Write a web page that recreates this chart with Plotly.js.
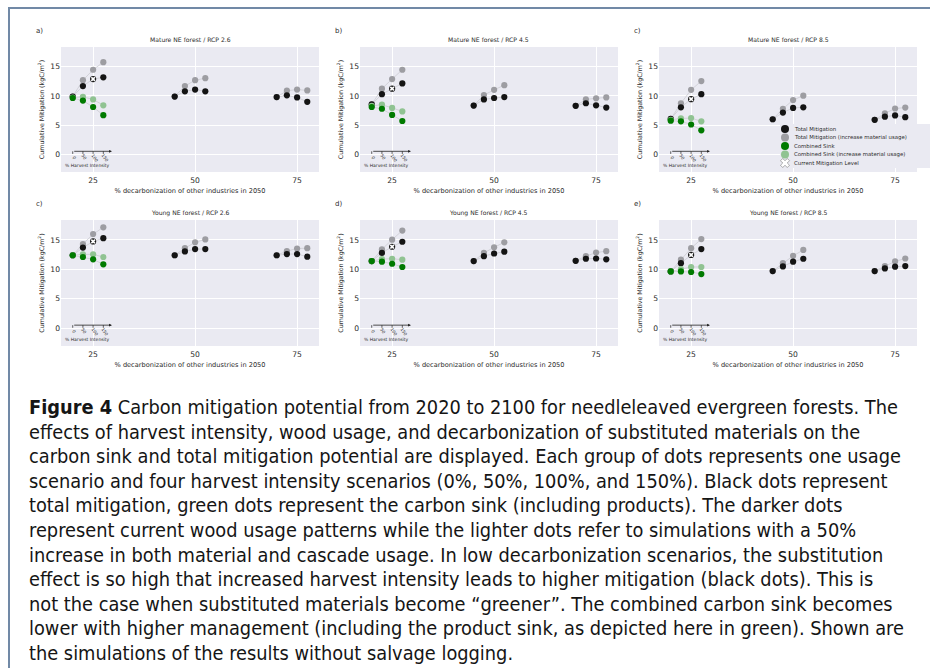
<!DOCTYPE html>
<html>
<head>
<meta charset="utf-8">
<script src="https://cdn.plot.ly/plotly-3.0.1.min.js"></script>
<style>
  html, body { margin: 0; padding: 0; background: #fff; }
  #wrap { position: relative; width: 930px; height: 668px; overflow: hidden; }
  #chart { position: absolute; left: 0; top: 0; width: 930px; height: 668px; }
  #frame { position: absolute; left: 8px; top: 7px; width: 940px; height: 700px;
           border-top: 2px solid #7189a6; border-left: 2px solid #7189a6; }
  #caption { position: absolute; left: 29px; top: 396px; white-space: pre;
             font-family: "Liberation Sans Narrow", "DejaVu Sans Condensed", "Liberation Sans", sans-serif;
             font-size: 19.8px; line-height: 24.6px; color: #151515; }
</style>
</head>
<body>
<div id="wrap">
  <div id="chart"></div>
  <div id="frame"></div>
  <div id="caption"></div>
</div>
<script>
// Decarbonization levels (%) and harvest intensity scenarios (%)
const decarbonization = [25, 50, 75];
const harvestIntensity = [0, 50, 100, 150];
const harvestLabels = ['0', '50', '100', '150'];

// Cumulative mitigation (kgC/m2), one row per decarbonization level, one value per harvest intensity
const matureRcp26Total     = [[9.9, 11.7, 12.9, 13.2], [9.9, 10.8, 11.1, 10.8], [9.8, 10.1, 9.75, 9.0]];
const matureRcp26TotalInc  = [[9.9, 12.7, 14.5, 15.8], [9.9, 11.7, 12.7, 13.05], [9.8, 10.9, 11.1, 10.95]];
const matureRcp26Sink      = [9.65, 9.2, 8.1, 6.7];
const matureRcp26SinkInc   = [9.7, 9.85, 9.4, 8.4];

const matureRcp45Total     = [[8.55, 10.3, 11.25, 12.15], [8.35, 9.4, 9.65, 9.8], [8.3, 8.75, 8.4, 8.0]];
const matureRcp45TotalInc  = [[8.55, 11.25, 12.9, 14.5], [8.35, 10.15, 11.05, 11.85], [8.3, 9.4, 9.6, 9.75]];
const matureRcp45Sink      = [8.1, 7.8, 6.75, 5.7];
const matureRcp45SinkInc   = [8.3, 8.5, 7.95, 7.35];

const matureRcp85Total     = [[6.05, 8.05, 9.45, 10.3], [6.0, 7.15, 7.95, 8.05], [5.9, 6.45, 6.65, 6.35]];
const matureRcp85TotalInc  = [[6.05, 8.75, 11.05, 12.55], [6.0, 7.8, 9.3, 10.05], [5.9, 7.0, 7.85, 8.0]];
const matureRcp85Sink      = [5.75, 5.65, 5.1, 4.1];
const matureRcp85SinkInc   = [5.9, 6.15, 6.2, 5.65];

const youngRcp26Total      = [[12.4, 13.7, 14.75, 15.3], [12.4, 13.05, 13.45, 13.45], [12.4, 12.6, 12.6, 12.15]];
const youngRcp26TotalInc   = [[12.4, 14.3, 16.0, 17.15], [12.4, 13.6, 14.6, 15.1], [12.4, 13.1, 13.55, 13.6]];
const youngRcp26Sink       = [12.4, 12.1, 11.7, 10.85];
const youngRcp26SinkInc    = [12.4, 12.55, 12.55, 12.1];

const youngRcp45Total      = [[11.4, 12.8, 13.85, 14.7], [11.4, 12.25, 12.7, 13.0], [11.45, 11.8, 11.85, 11.7]];
const youngRcp45TotalInc   = [[11.4, 13.4, 15.05, 16.6], [11.4, 12.8, 13.75, 14.6], [11.45, 12.25, 12.85, 13.1]];
const youngRcp45Sink       = [11.4, 11.3, 10.95, 10.4];
const youngRcp45SinkInc    = [11.4, 11.75, 11.8, 11.65];

const youngRcp85Total      = [[9.65, 11.05, 12.45, 13.45], [9.7, 10.5, 11.3, 11.8], [9.7, 10.15, 10.45, 10.55]];
const youngRcp85TotalInc   = [[9.65, 11.65, 13.6, 15.15], [9.7, 11.05, 12.3, 13.3], [9.7, 10.55, 11.35, 11.85]];
const youngRcp85Sink       = [9.65, 9.65, 9.55, 9.2];
const youngRcp85SinkInc    = [9.65, 10.05, 10.4, 10.4];

const panelTitles = ['Mature NE forest / RCP 2.6', 'Mature NE forest / RCP 4.5', 'Mature NE forest / RCP 8.5',
                     'Young NE forest / RCP 2.6', 'Young NE forest / RCP 4.5', 'Young NE forest / RCP 8.5'];
const panelLetters = ['a)', 'b)', 'c)', 'c)', 'd)', 'e)'];
const legendLabels = ['Total Mitigation', 'Total Mitigation (increase material usage)', 'Combined Sink',
                      'Combined Sink (increase material usage)', 'Current Mitigation Level'];

const captionLines = [
  '<b>Figure 4</b> Carbon mitigation potential from 2020 to 2100 for needleleaved evergreen forests. The',
  'effects of harvest intensity, wood usage, and decarbonization of substituted materials on the',
  'carbon sink and total mitigation potential are displayed. Each group of dots represents one usage',
  'scenario and four harvest intensity scenarios (0%, 50%, 100%, and 150%). Black dots represent',
  'total mitigation, green dots represent the carbon sink (including products). The darker dots',
  'represent current wood usage patterns while the lighter dots refer to simulations with a 50%',
  'increase in both material and cascade usage. In low decarbonization scenarios, the substitution',
  'effect is so high that increased harvest intensity leads to higher mitigation (black dots). This is',
  'not the case when substituted materials become \u201cgreener\u201d. The combined carbon sink becomes',
  'lower with higher management (including the product sink, as depicted here in green). Shown are',
  'the simulations of the results without salvage logging.'
];

const panels = [
  [matureRcp26Total, matureRcp26TotalInc, matureRcp26Sink, matureRcp26SinkInc],
  [matureRcp45Total, matureRcp45TotalInc, matureRcp45Sink, matureRcp45SinkInc],
  [matureRcp85Total, matureRcp85TotalInc, matureRcp85Sink, matureRcp85SinkInc],
  [youngRcp26Total, youngRcp26TotalInc, youngRcp26Sink, youngRcp26SinkInc],
  [youngRcp45Total, youngRcp45TotalInc, youngRcp45Sink, youngRcp45SinkInc],
  [youngRcp85Total, youngRcp85TotalInc, youngRcp85Sink, youngRcp85SinkInc]
];

// colours
const C_TOTAL = '#141414', C_TOTAL_INC = '#9d9da2', C_SINK = '#007a00', C_SINK_INC = '#90c392';
const C_LINK = '#cfcfd6', BG = '#eaeaf2', TXT = '#2b2b2b';

// page geometry (pixels -> paper fractions)
const W = 930, H = 668;
const px = v => v / W;
const py = v => 1 - v / H;
const cols = [[61, 319], [360, 618], [659, 917]];
const rows = [[47, 172], [220, 346]];
const XR = [17.125, 80.375], YR = [-3.05, 18.4];

// each harvest scenario is drawn a little left/right of its decarbonization level
const xpos = (d, h) => d + (h / 50 - 2) * 2.5;

const traces = [], annotations = [], shapes = [];
const layout = {
  width: W, height: H, margin: {l: 0, r: 0, t: 0, b: 0},
  paper_bgcolor: 'rgba(0,0,0,0)', plot_bgcolor: BG, showlegend: false,
  font: {family: 'DejaVu Sans, sans-serif', color: TXT}
};

function groupedXY(groups) {
  const x = [], y = [];
  groups.forEach((vals, gi) => {
    vals.forEach((v, hi) => { x.push(xpos(decarbonization[gi], harvestIntensity[hi])); y.push(v); });
    x.push(null); y.push(null);
  });
  return {x, y};
}

panels.forEach((p, i) => {
  const [total, totalInc, sink, sinkInc] = p;
  const r = Math.floor(i / 3), c = i % 3;
  const n = i + 1;
  const sfx = n === 1 ? '' : String(n);
  const xa = 'x' + sfx, ya = 'y' + sfx;

  layout['xaxis' + sfx] = {
    domain: [px(cols[c][0]), px(cols[c][1])], range: XR, anchor: ya,
    tickvals: decarbonization, ticks: '', showline: false, zeroline: false, ticklabelstandoff: 2,
    gridcolor: '#ffffff', gridwidth: 1, tickfont: {size: 7.6, color: TXT},
    title: {text: '% decarbonization of other industries in 2050', font: {size: 6.6, color: TXT}, standoff: 4},
    automargin: false, fixedrange: true
  };
  layout['yaxis' + sfx] = {
    domain: [py(rows[r][1]), py(rows[r][0])], range: YR, anchor: xa,
    tickvals: [0, 5, 10, 15], ticks: '', showline: false, zeroline: false,
    gridcolor: '#ffffff', gridwidth: 1, tickfont: {size: 7.6, color: TXT},
    title: {text: 'Cumulative Mitigation (kgC/m<sup>2</sup>)', font: {size: 6.3, color: TXT}, standoff: 5},
    automargin: false, fixedrange: true
  };

  const tot = groupedXY(total), totInc = groupedXY(totalInc);
  const sk = groupedXY([sink]), skInc = groupedXY([sinkInc]);

  // connecting lines behind the dots
  [totInc, tot, skInc, sk].forEach(s => traces.push({
    type: 'scatter', mode: 'lines', x: s.x, y: s.y, xaxis: xa, yaxis: ya,
    line: {color: C_LINK, width: 0.9}, hoverinfo: 'skip', connectgaps: false
  }));
  // dots
  [[totInc, C_TOTAL_INC], [tot, C_TOTAL], [skInc, C_SINK_INC], [sk, C_SINK]].forEach(([s, col]) => traces.push({
    type: 'scatter', mode: 'markers', x: s.x, y: s.y, xaxis: xa, yaxis: ya,
    marker: {color: col, size: 6.2, line: {width: 0}}
  }));
  // current mitigation level: 25 % decarbonization, 100 % harvest intensity
  traces.push({
    type: 'scatter', mode: 'markers', xaxis: xa, yaxis: ya,
    x: [xpos(decarbonization[0], harvestIntensity[2])], y: [total[0][2]],
    marker: {symbol: 'x', color: '#ffffff', size: 4.2, line: {width: 0}}
  });

  // harvest intensity key (arrow with ticks)
  const hx = harvestIntensity.map(h => xpos(decarbonization[0], h));
  const ay0 = 0.5;
  annotations.push({
    xref: xa, yref: ya, axref: xa, ayref: ya, x: hx[3] + 2.1, y: ay0, ax: hx[0], ay: ay0,
    text: '', showarrow: true, arrowhead: 2, arrowsize: 0.7, arrowwidth: 0.8, arrowcolor: '#222'
  });
  hx.forEach((x, k) => {
    shapes.push({type: 'line', xref: xa, yref: ya, x0: x, x1: x, y0: ay0, y1: ay0 - 0.45,
                 line: {color: '#222', width: 0.7}});
    annotations.push({xref: xa, yref: ya, x: x + 0.35, y: ay0 - 1.05, text: harvestLabels[k],
                      showarrow: false, textangle: 55, font: {size: 4.3, color: TXT}});
  });
  annotations.push({xref: xa, yref: ya, x: (hx[0] + hx[3]) / 2 - 0.2, y: -1.95, text: '% Harvest Intensity',
                    xanchor: 'center', showarrow: false, font: {size: 4.5, color: TXT}});

  // panel title and letter
  annotations.push({xref: 'paper', yref: 'paper', x: px((cols[c][0] + cols[c][1]) / 2), y: py(rows[r][0] - 1.5),
                    xanchor: 'center', yanchor: 'bottom', text: panelTitles[i], showarrow: false,
                    font: {size: 6.1, color: TXT}});
  annotations.push({xref: 'paper', yref: 'paper', x: px(cols[c][0] - 27), y: py(rows[r][0] - 10),
                    xanchor: 'left', yanchor: 'bottom', text: panelLetters[i], showarrow: false,
                    font: {size: 7, color: TXT}});
});

// legend drawn inside panel c (mature, RCP 8.5) on its own helper axes, pixel-like units
layout.xaxis7 = {domain: [px(780), px(930)], range: [0, 150], visible: false, fixedrange: true, anchor: 'y7'};
layout.yaxis7 = {domain: [py(168), py(124)], range: [44, 0], visible: false, fixedrange: true, anchor: 'x7'};
const legRowY = [5, 13.5, 22, 30.5, 39];
const legCols = [C_TOTAL, C_TOTAL_INC, C_SINK, C_SINK_INC];
legCols.forEach((col, k) => traces.push({
  type: 'scatter', mode: 'markers', xaxis: 'x7', yaxis: 'y7', x: [5], y: [legRowY[k]],
  marker: {color: col, size: 8}, hoverinfo: 'skip'
}));
traces.push({type: 'scatter', mode: 'markers', xaxis: 'x7', yaxis: 'y7', x: [5], y: [legRowY[4]],
             marker: {symbol: 'x', color: '#ffffff', size: 8, line: {color: '#777', width: 0.6}}, hoverinfo: 'skip'});
legendLabels.forEach((t, k) => annotations.push({
  xref: 'x7', yref: 'y7', x: 12, y: legRowY[k], xanchor: 'left', text: t, showarrow: false,
  font: {size: 5.4, color: TXT}
}));

layout.annotations = annotations;
layout.shapes = shapes;

Plotly.newPlot('chart', traces, layout, {staticPlot: true});

document.getElementById('caption').innerHTML = captionLines.join('\n');
</script>
</body>
</html>
